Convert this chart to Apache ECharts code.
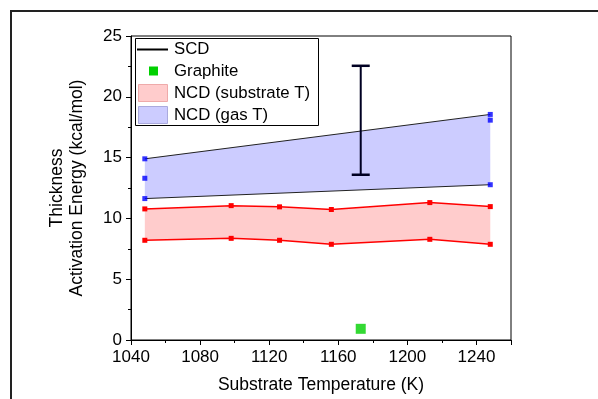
<!DOCTYPE html>
<html>
<head>
<meta charset="utf-8">
<script src="https://cdn.jsdelivr.net/npm/echarts@6/dist/echarts.min.js"></script>
<style>
  html, body { margin: 0; padding: 0; background: #fff; }
  #chart { width: 598px; height: 399px; }
</style>
</head>
<body>
<div id="chart"></div>
<script>
// NCD (substrate T) band
const ncdTemps = [1048, 1098, 1126, 1156, 1213, 1248]
const subUpper = [10.78, 11.05, 10.95, 10.73, 11.3, 10.97]
const subLower = [8.2, 8.36, 8.2, 7.87, 8.28, 7.87]

// NCD (gas T) band
const gasTemps = [1048, 1248]
const gasUpper = [14.9, 18.55]
const gasLower = [11.63, 12.77]
const gasMarkers = [[1048, 14.9], [1048, 13.3], [1048, 11.63], [1248, 18.55], [1248, 18.08], [1248, 12.77]]

// SCD error bar and graphite point
const scdBar = [[1173, 13.59, 22.55]]
const graphite = [[1173, 0.92]]

const FONT = 'Liberation Sans, Arial, sans-serif'
const LEGEND_FONT = '16.8px ' + FONT

const zip = (xs, ys) => xs.map((x, i) => [x, ys[i]])

// polygon between two curves, drawn through the axes
const bandSeries = (temps, upper, lower, color) => ({
  type: 'custom',
  z: 1,
  silent: true,
  data: [[temps[0], lower[0]]],
  renderItem: (params, api) => {
    const pts = []
    temps.forEach((t, i) => pts.push(api.coord([t, upper[i]])))
    for (let i = temps.length - 1; i >= 0; i--) pts.push(api.coord([temps[i], lower[i]]))
    return { type: 'polygon', shape: { points: pts }, style: { fill: color } }
  },
})

const chart = echarts.init(document.getElementById('chart'))

const option = {
  animation: false,
  backgroundColor: '#fff',
  grid: {
    left: 131, right: 87, top: 36, bottom: 57,
    show: true, borderColor: '#000', borderWidth: 1,
  },
  xAxis: {
    type: 'value',
    min: 1040, max: 1260, interval: 40,
    name: 'Substrate Temperature (K)',
    nameLocation: 'middle',
    nameGap: 36,
    nameTextStyle: { fontFamily: FONT, fontSize: 17.5, color: '#000' },
    axisLine: { show: true, lineStyle: { color: '#000', width: 1 } },
    axisTick: { show: true, inside: false, length: 5, lineStyle: { color: '#000' } },
    minorTick: { show: true, splitNumber: 2, length: 3, lineStyle: { color: '#000' } },
    splitLine: { show: false },
    axisLabel: {
      fontFamily: FONT, fontSize: 17, color: '#000', margin: 9,
      showMaxLabel: false,
      formatter: v => (v % 40 === 0 ? String(v) : ''),
    },
  },
  yAxis: {
    type: 'value',
    min: 0, max: 25, interval: 5,
    name: 'Thickness\nActivation Energy (kcal/mol)',
    nameLocation: 'middle',
    nameGap: 44,
    nameTextStyle: { fontFamily: FONT, fontSize: 17.5, color: '#000', lineHeight: 20 },
    axisLine: { show: true, lineStyle: { color: '#000', width: 1 } },
    axisTick: { show: true, inside: false, length: 5, lineStyle: { color: '#000' } },
    minorTick: { show: true, splitNumber: 2, length: 3, lineStyle: { color: '#000' } },
    splitLine: { show: false },
    axisLabel: { fontFamily: FONT, fontSize: 17, color: '#000', margin: 9 },
  },
  series: [
    bandSeries(ncdTemps, subUpper, subLower, '#ffcccc'),
    bandSeries(gasTemps, gasUpper, gasLower, '#ccccff'),
    {
      type: 'line',
      z: 3,
      data: zip(ncdTemps, subUpper),
      symbol: 'rect', symbolSize: 5,
      lineStyle: { color: '#ff0000', width: 1.5 },
      itemStyle: { color: '#ff0000' },
    },
    {
      type: 'line',
      z: 3,
      data: zip(ncdTemps, subLower),
      symbol: 'rect', symbolSize: 5,
      lineStyle: { color: '#ff0000', width: 1.5 },
      itemStyle: { color: '#ff0000' },
    },
    {
      type: 'line',
      z: 3,
      data: zip(gasTemps, gasUpper),
      symbol: 'none',
      lineStyle: { color: '#222', width: 1 },
    },
    {
      type: 'line',
      z: 3,
      data: zip(gasTemps, gasLower),
      symbol: 'none',
      lineStyle: { color: '#222', width: 1 },
    },
    {
      type: 'scatter',
      z: 4,
      data: gasMarkers,
      symbol: 'rect', symbolSize: 5,
      itemStyle: { color: '#0000ff' },
    },
    {
      type: 'custom',
      z: 5,
      data: scdBar,
      renderItem: (params, api) => {
        const lo = api.coord([api.value(0), api.value(1)])
        const hi = api.coord([api.value(0), api.value(2)])
        const half = 9
        const cap = { stroke: '#000022', lineWidth: 2.5 }
        return {
          type: 'group',
          children: [
            { type: 'line', shape: { x1: lo[0], y1: lo[1], x2: hi[0], y2: hi[1] }, style: { stroke: '#000022', lineWidth: 2 } },
            { type: 'line', shape: { x1: lo[0] - half, y1: lo[1], x2: lo[0] + half, y2: lo[1] }, style: cap },
            { type: 'line', shape: { x1: hi[0] - half, y1: hi[1], x2: hi[0] + half, y2: hi[1] }, style: cap },
          ],
        }
      },
    },
    {
      type: 'scatter',
      z: 5,
      data: graphite,
      symbol: 'rect', symbolSize: 10,
      itemStyle: { color: '#00d000' },
    },
  ],
  graphic: [
    // outer frame
    {
      type: 'rect', z: 0, silent: true,
      shape: { x: 11, y: 11, width: 700, height: 700 },
      style: { fill: 'none', stroke: '#222', lineWidth: 2 },
    },
    // legend box
    {
      type: 'group', z: 100,
      children: [
        { type: 'rect', shape: { x: 135.5, y: 38.5, width: 183, height: 87 }, style: { fill: '#fff', stroke: '#000', lineWidth: 1 } },
        { type: 'line', shape: { x1: 137, y1: 49.5, x2: 168, y2: 49.5 }, style: { stroke: '#000', lineWidth: 2 } },
        { type: 'rect', shape: { x: 149, y: 66.5, width: 9, height: 9 }, style: { fill: '#00d000' } },
        { type: 'rect', shape: { x: 138.5, y: 84.5, width: 29, height: 17 }, style: { fill: '#ffcccc', stroke: '#eeaaaa', lineWidth: 1 } },
        { type: 'rect', shape: { x: 138.5, y: 106.5, width: 29, height: 17 }, style: { fill: '#ccccff', stroke: '#aaaadd', lineWidth: 1 } },
        { type: 'text', x: 174, y: 49, style: { text: 'SCD', font: LEGEND_FONT, fill: '#000', verticalAlign: 'middle' } },
        { type: 'text', x: 174, y: 71.5, style: { text: 'Graphite', font: LEGEND_FONT, fill: '#000', verticalAlign: 'middle' } },
        { type: 'text', x: 174, y: 93, style: { text: 'NCD (substrate T)', font: LEGEND_FONT, fill: '#000', verticalAlign: 'middle' } },
        { type: 'text', x: 174, y: 115, style: { text: 'NCD (gas T)', font: LEGEND_FONT, fill: '#000', verticalAlign: 'middle' } },
      ],
    },
  ],
}

chart.setOption(option)
</script>
</body>
</html>
